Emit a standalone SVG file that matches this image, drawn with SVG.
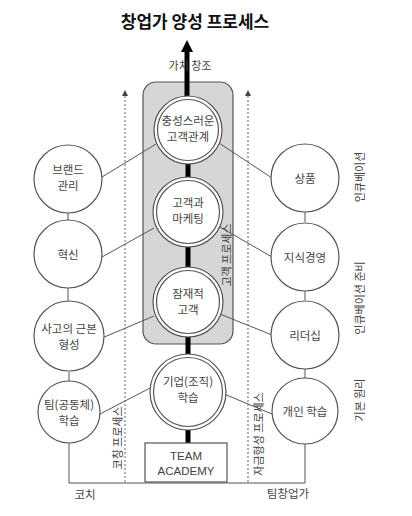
<svg xmlns="http://www.w3.org/2000/svg" width="412" height="516" viewBox="0 0 412 516">
<defs>
<style>
text{font-family:"Noto Sans CJK KR","Noto Sans",sans-serif;fill:#444;font-size:11.5px;text-anchor:middle}
.title{font-size:17px;font-weight:bold;fill:#111}
.side{fill:#fff;stroke:#555;stroke-width:1.2}
.dbl{fill:#fff;stroke:#555;stroke-width:1.2}
.ln{stroke:#555;stroke-width:1;fill:none}
.thick{stroke:#000;stroke-width:5;fill:none}
.dot{stroke:#666;stroke-width:1;stroke-dasharray:2,2;fill:none}
.vt{font-size:11px}
</style>
<marker id="sm" markerWidth="6" markerHeight="6" refX="3" refY="3" orient="auto" markerUnits="userSpaceOnUse"><path d="M0,0 L6,3 L0,6 z" fill="#444"/></marker>
<marker id="big" markerWidth="12" markerHeight="12" refX="6" refY="6" orient="auto" markerUnits="userSpaceOnUse"><path d="M0,0 L12,6 L0,12 z" fill="#000"/></marker>
</defs>
<rect width="412" height="516" fill="#fff"/>
<text class="title" x="195" y="28">창업가 양성 프로세스</text>

<g id="processbox"><rect x="143" y="82" width="90" height="262" rx="13" fill="#d6d6d6" stroke="#555" stroke-width="1.2"/></g>

<g id="connectors">
<path class="thick" d="M187,97 V46" marker-end="url(#big)"/>
<path class="dot" d="M125,482 V93" marker-end="url(#sm)"/>
<path class="dot" d="M248,482 V93" marker-end="url(#sm)"/>
<path class="thick" d="M188,163 V177"/>
<path class="thick" d="M188,247 V267"/>
<path class="thick" d="M188,337 V354"/>
<path class="thick" d="M188,430 V443"/>
<path class="ln" d="M68,213 V221"/>
<path class="ln" d="M68,288 V301"/>
<path class="ln" d="M69,372 V381"/>
<path class="ln" d="M305,212 V222"/>
<path class="ln" d="M305,291 V300"/>
<path class="ln" d="M305,369 V378"/>
<path class="ln" d="M69,443 V483 H305 V444"/>
<path class="ln" d="M102,177 L156,144"/>
<path class="ln" d="M102,257 L154,228"/>
<path class="ln" d="M102,338 L154,316"/>
<path class="ln" d="M100,414 L152,387"/>
<path class="ln" d="M219,143 L272,178"/>
<path class="ln" d="M220,227 L272,257"/>
<path class="ln" d="M220,314 L272,335"/>
<path class="ln" d="M224,394 L272,414"/>
</g>

<text x="190" y="70" style="font-size:11px">가치 창조</text>

<g id="n-loyal"><circle class="dbl" cx="188" cy="130" r="34"/><circle class="dbl" cx="188" cy="130" r="30.5"/><text x="188" y="125">충성스러운</text><text x="188" y="141">고객관계</text></g>
<g id="n-marketing"><circle class="dbl" cx="188" cy="212" r="35"/><circle class="dbl" cx="188" cy="212" r="31.5"/><text x="188" y="207">고객과</text><text x="188" y="223">마케팅</text></g>
<g id="n-potential"><circle class="dbl" cx="188" cy="302" r="35"/><circle class="dbl" cx="188" cy="302" r="31.5"/><text x="188" y="298">잠재적</text><text x="188" y="314">고객</text></g>
<g id="n-corp"><circle class="dbl" cx="188" cy="392" r="38"/><circle class="dbl" cx="188" cy="392" r="34.5"/><text x="188" y="386">기업(조직)</text><text x="188" y="402">학습</text></g>
<g id="n-team"><rect x="145" y="443" width="82" height="39" fill="#fff" stroke="#555" stroke-width="1.2"/><text x="186" y="460" style="font-family:'Liberation Sans',sans-serif">TEAM</text><text x="186" y="475" style="font-family:'Liberation Sans',sans-serif">ACADEMY</text></g>

<g id="n-brand"><circle class="side" cx="68" cy="179" r="34"/><text x="68" y="174">브랜드</text><text x="68" y="190">관리</text></g>
<g id="n-innov"><circle class="side" cx="68" cy="254" r="34"/><text x="68" y="259">혁신</text></g>
<g id="n-thought"><circle class="side" cx="69" cy="336" r="35"/><text x="69" y="333">사고의 근본</text><text x="69" y="349">형성</text></g>
<g id="n-teamlearn"><circle class="side" cx="69" cy="412" r="31"/><text x="69" y="409">팀(공동체)</text><text x="69" y="425">학습</text></g>

<g id="n-product"><circle class="side" cx="305" cy="178" r="34"/><text x="305" y="183">상품</text></g>
<g id="n-knowledge"><circle class="side" cx="305" cy="257" r="34"/><text x="305" y="262">지식경영</text></g>
<g id="n-leader"><circle class="side" cx="305" cy="335" r="34"/><text x="305" y="340">리더십</text></g>
<g id="n-indiv"><circle class="side" cx="305" cy="411" r="33"/><text x="305" y="416">개인 학습</text></g>

<text class="vt" transform="translate(231,255) rotate(-90)">고객 프로세스</text>
<text class="vt" transform="translate(122,438) rotate(-90)">코칭 프로세스</text>
<text class="vt" transform="translate(263,434) rotate(-90)">자금형성 프로세스</text>
<text class="vt" transform="translate(364,177) rotate(-90)">인큐베이션</text>
<text class="vt" transform="translate(364,298) rotate(-90)">인큐베이션 준비</text>
<text class="vt" transform="translate(364,400) rotate(-90)">기본 원리</text>

<text x="85" y="499">코치</text>
<text x="288" y="498">팀창업가</text>
</svg>
